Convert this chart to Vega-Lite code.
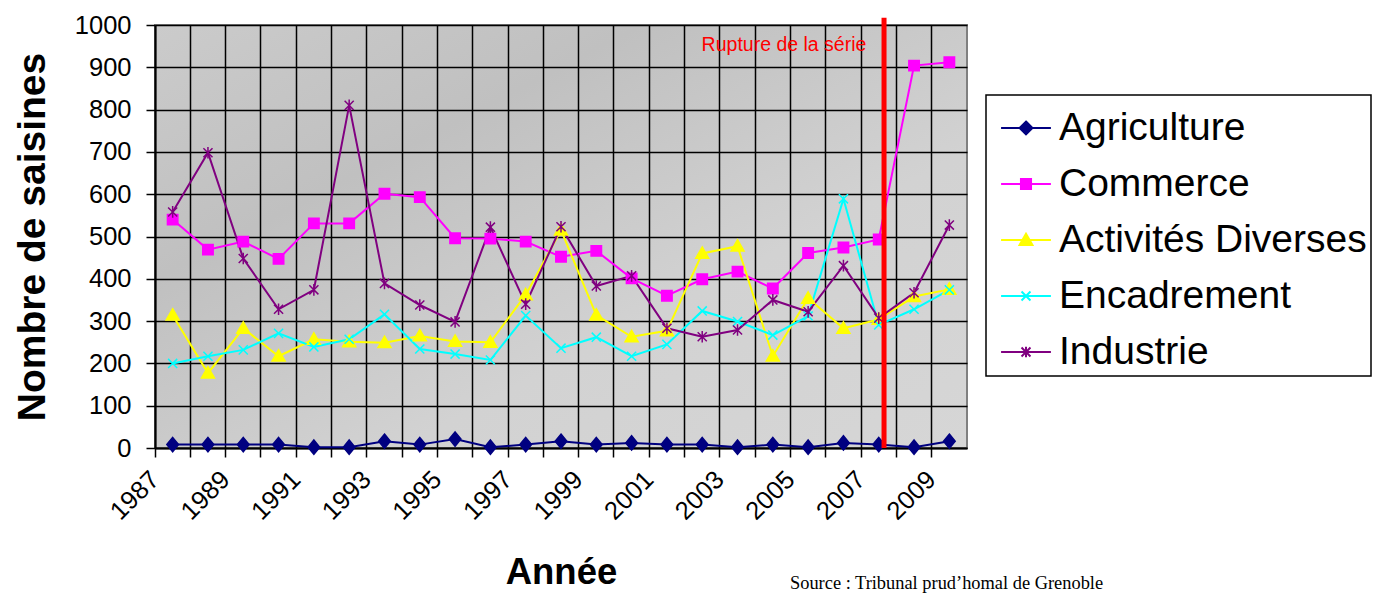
{
  "$schema": "https://vega.github.io/schema/vega-lite/v6.json",
  "autosize": {"type": "none"},
  "width": 812,
  "height": 423,
  "padding": {"left": 155, "top": 25, "right": 413, "bottom": 146},
  "background": "white",
  "config": {
    "font": "Liberation Sans",
    "view": {
      "fill": {"gradient": "linear", "x1": 0, "y1": 0, "x2": 1, "y2": 1,
        "stops": [{"offset": 0, "color": "#cbcbcb"}, {"offset": 0.3, "color": "#c0c0c0"}, {"offset": 0.65, "color": "#d2d2d2"}, {"offset": 1, "color": "#d6d6d6"}]},
      "stroke": "#808080",
      "strokeWidth": 2
    },
    "axis": {
      "labelFont": "Liberation Sans",
      "labelColor": "black",
      "labelFontSize": 25.5,
      "titleFont": "Liberation Sans",
      "titleColor": "black",
      "titleFontWeight": "bold",
      "tickColor": "black",
      "tickWidth": 1.5,
      "tickSize": 9,
      "domainColor": "black",
      "domainWidth": 2,
      "grid": true,
      "gridColor": "black",
      "gridWidth": 1.5,
      "gridOpacity": 1
    }
  },
  "title": {
    "text": "Source : Tribunal prud’homal de Grenoble",
    "orient": "bottom",
    "anchor": "start",
    "frame": "group",
    "dx": 635,
    "offset": -17,
    "font": "Liberation Serif",
    "fontSize": 18.4,
    "fontWeight": "normal",
    "color": "black"
  },
  "data": {
    "values": [
      {"year": 1987, "Agriculture": 8, "Commerce": 540, "Activités Diverses": 314, "Encadrement": 200, "Industrie": 558},
      {"year": 1988, "Agriculture": 8, "Commerce": 469, "Activités Diverses": 177, "Encadrement": 217, "Industrie": 698},
      {"year": 1989, "Agriculture": 8, "Commerce": 488, "Activités Diverses": 283, "Encadrement": 232, "Industrie": 448},
      {"year": 1990, "Agriculture": 8, "Commerce": 447, "Activités Diverses": 217, "Encadrement": 271, "Industrie": 328},
      {"year": 1991, "Agriculture": 2, "Commerce": 531, "Activités Diverses": 257, "Encadrement": 239, "Industrie": 374},
      {"year": 1992, "Agriculture": 2, "Commerce": 531, "Activités Diverses": 251, "Encadrement": 257, "Industrie": 810},
      {"year": 1993, "Agriculture": 16, "Commerce": 601, "Activités Diverses": 249, "Encadrement": 316, "Industrie": 389},
      {"year": 1994, "Agriculture": 8, "Commerce": 593, "Activités Diverses": 265, "Encadrement": 234, "Industrie": 338},
      {"year": 1995, "Agriculture": 21, "Commerce": 496, "Activités Diverses": 252, "Encadrement": 222, "Industrie": 298},
      {"year": 1996, "Agriculture": 2, "Commerce": 495, "Activités Diverses": 250, "Encadrement": 208, "Industrie": 522},
      {"year": 1997, "Agriculture": 8, "Commerce": 488, "Activités Diverses": 362, "Encadrement": 313, "Industrie": 340},
      {"year": 1998, "Agriculture": 16, "Commerce": 452, "Activités Diverses": 515, "Encadrement": 236, "Industrie": 523},
      {"year": 1999, "Agriculture": 8, "Commerce": 466, "Activités Diverses": 314, "Encadrement": 262, "Industrie": 383},
      {"year": 2000, "Agriculture": 12, "Commerce": 401, "Activités Diverses": 263, "Encadrement": 217, "Industrie": 407},
      {"year": 2001, "Agriculture": 8, "Commerce": 360, "Activités Diverses": 277, "Encadrement": 245, "Industrie": 283},
      {"year": 2002, "Agriculture": 8, "Commerce": 399, "Activités Diverses": 460, "Encadrement": 324, "Industrie": 263},
      {"year": 2003, "Agriculture": 2, "Commerce": 417, "Activités Diverses": 477, "Encadrement": 299, "Industrie": 279},
      {"year": 2004, "Agriculture": 8, "Commerce": 377, "Activités Diverses": 217, "Encadrement": 267, "Industrie": 350},
      {"year": 2005, "Agriculture": 2, "Commerce": 461, "Activités Diverses": 354, "Encadrement": 312, "Industrie": 322},
      {"year": 2006, "Agriculture": 12, "Commerce": 474, "Activités Diverses": 283, "Encadrement": 589, "Industrie": 431},
      {"year": 2007, "Agriculture": 8, "Commerce": 493, "Activités Diverses": 304, "Encadrement": 291, "Industrie": 307},
      {"year": 2008, "Agriculture": 2, "Commerce": 904, "Activités Diverses": 358, "Encadrement": 328, "Industrie": 367},
      {"year": 2009, "Agriculture": 16, "Commerce": 912, "Activités Diverses": 375, "Encadrement": 374, "Industrie": 527}
    ]
  },
  "layer": [
    {
      "transform": [{"fold": ["Agriculture", "Commerce", "Activités Diverses", "Encadrement", "Industrie"], "as": ["series", "value"]}],
      "mark": {"type": "line", "strokeWidth": 2},
      "encoding": {
        "x": {
          "field": "year", "type": "ordinal", "bandPosition": 0.5,
          "scale": {"type": "band", "paddingInner": 0, "paddingOuter": 0},
          "axis": {
            "title": "Année", "titleFontSize": 36.5, "titlePadding": 30,
            "bandPosition": 0, "labelAngle": -45, "labelAlign": "right", "labelBaseline": "middle",
            "labelPadding": 18, "labelOffset": -17.6, "labelOverlap": false,
            "labelExpr": "datum.value % 2 == 1 ? datum.value : ''"
          }
        },
        "y": {
          "field": "value", "type": "quantitative",
          "scale": {"domain": [0, 1000], "nice": false, "zero": true},
          "axis": {
            "title": "Nombre de saisines", "titleFontSize": 39, "titlePadding": 22,
            "values": [0, 100, 200, 300, 400, 500, 600, 700, 800, 900, 1000],
            "format": "d",
            "labelPadding": 15
          }
        },
        "color": {
          "field": "series", "type": "nominal",
          "scale": {"domain": ["Agriculture", "Commerce", "Activités Diverses", "Encadrement", "Industrie"],
                    "range": ["#000080", "#ff00ff", "#ffff00", "#00ffff", "#800080"]},
          "legend": {
            "title": null, "orient": "none", "legendX": 831, "legendY": 70,
            "labelFontSize": 39, "labelFont": "Liberation Sans", "labelColor": "black", "labelLimit": 500,
            "symbolSize": 3136, "symbolStrokeWidth": 2, "labelOffset": 11, "padding": 4, "rowPadding": 7,
            "strokeColor": "black", "fillColor": "white",
            "encode": {
              "legend": {"update": {"strokeWidth": {"value": 1.5}}},
              "symbols": {"update": {
                "shape": {"signal": "datum.value === 'Agriculture' ? 'M-0.64,0L1.14,0M0.25,-0.23L0.48,0L0.25,0.23L0.02,0Z' : datum.value === 'Commerce' ? 'M-0.64,0L1.14,0M0.07,-0.18L0.43,-0.18L0.43,0.18L0.07,0.18Z' : datum.value === 'Activités Diverses' ? 'M-0.64,0L1.14,0M0.25,-0.22L0.48,0.18L0.02,0.18Z' : datum.value === 'Encadrement' ? 'M-0.64,0L1.14,0M0.09,-0.16L0.41,0.16M0.09,0.16L0.41,-0.16' : 'M-0.64,0L1.14,0M0.09,-0.16L0.41,0.16M0.09,0.16L0.41,-0.16M0.25,-0.19L0.25,0.19'"},
                "fill": {"scale": "color", "field": "value"},
                "stroke": {"scale": "color", "field": "value"},
                "strokeWidth": {"value": 2},
                "opacity": {"value": 1}
              }}
            }
          }
        }
      }
    },
    {
      "transform": [{"fold": ["Agriculture"], "as": ["serie_p", "value_p"]}],
      "mark": {"type": "point", "filled": true, "opacity": 1, "size": 169, "strokeWidth": 1.5, "color": "#000080", "stroke": "#000080", "shape": "M0,-1.1L0.9,0L0,1.1L-0.9,0Z"},
      "encoding": {
        "x": {"field": "year", "type": "ordinal", "bandPosition": 0.5},
        "y": {"field": "value_p", "type": "quantitative"}
      }
    },
    {
      "transform": [{"fold": ["Commerce"], "as": ["serie_p", "value_p"]}],
      "mark": {"type": "point", "filled": true, "opacity": 1, "size": 169, "strokeWidth": 1.5, "color": "#ff00ff", "stroke": "#ff00ff", "shape": "M-0.8,-0.8L0.8,-0.8L0.8,0.8L-0.8,0.8Z"},
      "encoding": {
        "x": {"field": "year", "type": "ordinal", "bandPosition": 0.5},
        "y": {"field": "value_p", "type": "quantitative"}
      }
    },
    {
      "transform": [{"fold": ["Activités Diverses"], "as": ["serie_p", "value_p"]}],
      "mark": {"type": "point", "filled": true, "opacity": 1, "size": 169, "strokeWidth": 1.5, "color": "#ffff00", "stroke": "#ffff00", "shape": "M0,-1L1,0.75L-1,0.75Z"},
      "encoding": {
        "x": {"field": "year", "type": "ordinal", "bandPosition": 0.5},
        "y": {"field": "value_p", "type": "quantitative"}
      }
    },
    {
      "transform": [{"fold": ["Encadrement"], "as": ["serie_p", "value_p"]}],
      "mark": {"type": "point", "filled": false, "opacity": 1, "size": 169, "strokeWidth": 1.5, "color": "#00ffff", "shape": "M-0.7,-0.7L0.7,0.7M-0.7,0.7L0.7,-0.7"},
      "encoding": {
        "x": {"field": "year", "type": "ordinal", "bandPosition": 0.5},
        "y": {"field": "value_p", "type": "quantitative"}
      }
    },
    {
      "transform": [{"fold": ["Industrie"], "as": ["serie_p", "value_p"]}],
      "mark": {"type": "point", "filled": false, "opacity": 1, "size": 169, "strokeWidth": 1.5, "color": "#800080", "shape": "M-0.7,-0.7L0.7,0.7M-0.7,0.7L0.7,-0.7M0,-0.9L0,0.9"},
      "encoding": {
        "x": {"field": "year", "type": "ordinal", "bandPosition": 0.5},
        "y": {"field": "value_p", "type": "quantitative"}
      }
    },
    {
      "data": {"values": [{"year": 2007, "note": "Rupture de la série"}]},
      "mark": {"type": "rule", "color": "#ff0000", "strokeWidth": 5},
      "encoding": {
        "x": {"field": "year", "type": "ordinal", "bandPosition": 0.65},
        "y": {"datum": 1017},
        "y2": {"datum": 0}
      }
    },
    {
      "data": {"values": [{"year": 2007, "note": "Rupture de la série"}]},
      "mark": {"type": "text", "color": "#ff0000", "fontSize": 19.5, "font": "Liberation Sans", "align": "right", "baseline": "middle"},
      "encoding": {
        "x": {"field": "year", "type": "ordinal", "bandPosition": 0.15},
        "y": {"datum": 953},
        "text": {"field": "note"}
      }
    }
  ]
}
